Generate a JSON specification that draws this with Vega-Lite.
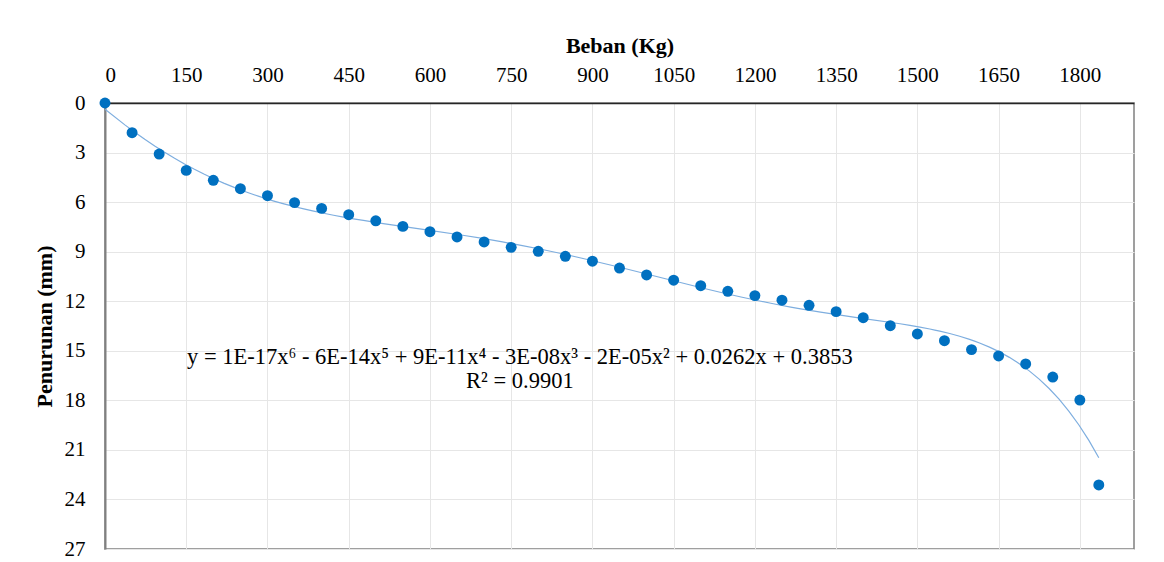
{
  "$schema": "https://vega.github.io/schema/vega-lite/v6.json",
  "autosize": "none",
  "width": 1029,
  "height": 446,
  "padding": {"left": 105, "top": 103, "right": 30, "bottom": 13},
  "background": "white",
  "config": {
    "view": {"stroke": "#808080", "strokeWidth": 1.5},
    "font": "Liberation Serif",
    "text": {"font": "Liberation Serif"},
    "axis": {
      "labelFont": "Liberation Serif",
      "titleFont": "Liberation Serif",
      "labelColor": "#000000",
      "titleColor": "#000000",
      "gridColor": "#E6E6E6",
      "gridWidth": 1,
      "ticks": false
    }
  },
  "data": {
    "values": [
      {"load": 0, "settlement": 0},
      {"load": 50, "settlement": 1.80},
      {"load": 100, "settlement": 3.09},
      {"load": 150, "settlement": 4.08},
      {"load": 200, "settlement": 4.68},
      {"load": 250, "settlement": 5.19},
      {"load": 300, "settlement": 5.61},
      {"load": 350, "settlement": 6.03},
      {"load": 400, "settlement": 6.38},
      {"load": 450, "settlement": 6.76},
      {"load": 500, "settlement": 7.13},
      {"load": 550, "settlement": 7.47},
      {"load": 600, "settlement": 7.79},
      {"load": 650, "settlement": 8.11},
      {"load": 700, "settlement": 8.41},
      {"load": 750, "settlement": 8.74},
      {"load": 800, "settlement": 8.98},
      {"load": 850, "settlement": 9.28},
      {"load": 900, "settlement": 9.58},
      {"load": 950, "settlement": 9.99},
      {"load": 1000, "settlement": 10.41},
      {"load": 1050, "settlement": 10.73},
      {"load": 1100, "settlement": 11.06},
      {"load": 1150, "settlement": 11.40},
      {"load": 1200, "settlement": 11.66},
      {"load": 1250, "settlement": 11.94},
      {"load": 1300, "settlement": 12.25},
      {"load": 1350, "settlement": 12.63},
      {"load": 1400, "settlement": 13.00},
      {"load": 1450, "settlement": 13.48},
      {"load": 1500, "settlement": 13.98},
      {"load": 1550, "settlement": 14.39},
      {"load": 1600, "settlement": 14.93},
      {"load": 1650, "settlement": 15.31},
      {"load": 1700, "settlement": 15.80},
      {"load": 1750, "settlement": 16.59},
      {"load": 1800, "settlement": 17.98},
      {"load": 1835, "settlement": 23.12}
    ]
  },
  "layer": [
    {
      "transform": [
        {"regression": "settlement", "on": "load", "method": "poly", "order": 6}
      ],
      "mark": {"type": "line", "color": "#7EAEDF", "strokeWidth": 1.2, "clip": true},
      "encoding": {
        "x": {
          "field": "load",
          "type": "quantitative",
          "scale": {"domain": [0, 1900], "nice": false},
          "axis": {
            "orient": "top",
            "title": "Beban (Kg)",
            "titleFontSize": 22,
            "titleFontWeight": "bold",
            "titlePadding": 7,
            "labelFontSize": 21,
            "labelPadding": 18,
            "format": "d",
            "values": [0, 150, 300, 450, 600, 750, 900, 1050, 1200, 1350, 1500, 1650, 1800],
            "domainColor": "#262626",
            "domainWidth": 1.5
          }
        },
        "y": {
          "field": "settlement",
          "type": "quantitative",
          "scale": {"domain": [0, 27], "reverse": true, "nice": false},
          "axis": {
            "title": "Penurunan (mm)",
            "titleFontSize": 22,
            "titleFontWeight": "bold",
            "titlePadding": 8,
            "labelFontSize": 21,
            "labelPadding": 20,
            "format": "d",
            "values": [0, 3, 6, 9, 12, 15, 18, 21, 24, 27],
            "domainColor": "#808080",
            "domainWidth": 2
          }
        }
      }
    },
    {
      "mark": {"type": "point", "filled": true, "color": "#0070C0", "size": 120, "opacity": 1},
      "encoding": {
        "x": {"field": "load", "type": "quantitative"},
        "y": {"field": "settlement", "type": "quantitative"}
      }
    },
    {
      "data": {"values": [{"label": "trend"}]},
      "mark": {
        "type": "text",
        "text": ["y = 1E-17x⁶ - 6E-14x⁵ + 9E-11x⁴ - 3E-08x³ - 2E-05x² + 0.0262x + 0.3853", "R² = 0.9901"],
        "font": "Liberation Serif, Times New Roman, serif",
        "fontSize": 22.5,
        "lineHeight": 24,
        "align": "center",
        "baseline": "middle",
        "color": "#000000"
      },
      "encoding": {
        "x": {"datum": 766},
        "y": {"datum": 15.37}
      }
    }
  ]
}
